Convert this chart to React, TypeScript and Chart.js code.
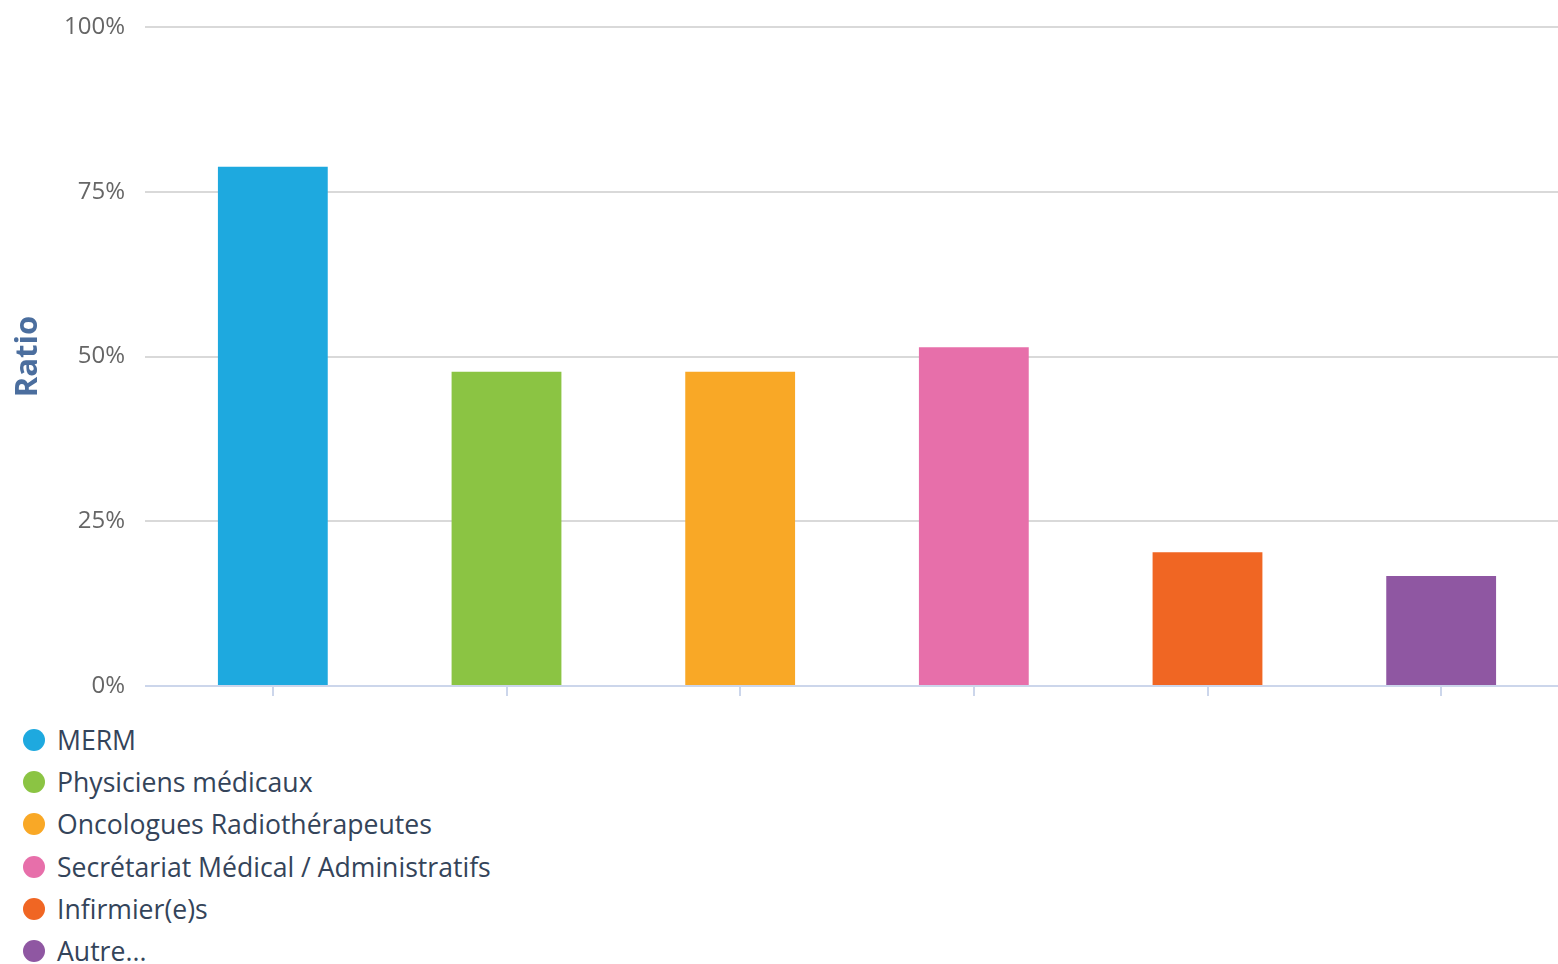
import React, { useEffect, useRef } from 'react';
import { Chart, registerables } from 'chart.js';

Chart.register(...registerables);

const categories = [
  'MERM',
  'Physiciens médicaux',
  'Oncologues Radiothérapeutes',
  'Secrétariat Médical / Administratifs',
  'Infirmier(e)s',
  'Autre...',
];
const ratios = [78.8, 47.7, 47.7, 51.4, 20.3, 16.7];
const barColors = ['#1EA9DF', '#8BC443', '#F9A826', '#E76FAA', '#F06623', '#8F57A2'];
const yTicks = [0, 25, 50, 75, 100];
const yTitle = 'Ratio';

const FONT = "'Open Sans', 'Noto Sans', sans-serif";

export default function App() {
  const canvasRef = useRef<HTMLCanvasElement | null>(null);

  useEffect(() => {
    if (!canvasRef.current) return;
    const chart = new Chart(canvasRef.current, {
      type: 'bar',
      data: {
        labels: categories,
        datasets: [
          {
            label: yTitle,
            data: ratios,
            backgroundColor: barColors,
            borderWidth: 0,
            categoryPercentage: 1,
            barPercentage: 0.47,
          },
        ],
      },
      options: {
        responsive: false,
        animation: false,
        layout: { padding: { top: 27, right: 0, bottom: 5, left: 0 } },
        plugins: {
          legend: { display: false },
          tooltip: { enabled: false },
        },
        scales: {
          x: {
            border: { display: true, color: '#ccd6eb', width: 2 },
            grid: {
              drawOnChartArea: false,
              offset: false,
              drawTicks: true,
              tickLength: 10,
              color: '#ccd6eb',
              lineWidth: 2,
            },
            ticks: { display: false },
          },
          y: {
            min: 0,
            max: 100,
            afterBuildTicks: (scale: any) => {
              scale.ticks = yTicks.map((v) => ({ value: v }));
            },
            afterFit: (scale: any) => {
              scale.width = 156;
            },
            border: { display: false },
            grid: {
              drawTicks: true,
              tickLength: 11,
              lineWidth: 2,
              color: (ctx: any) => (ctx.tick && ctx.tick.value === 0 ? '#ccd6eb' : '#d9d9d9'),
            },
            ticks: {
              padding: 20,
              color: '#666666',
              font: { family: FONT, size: 24, lineHeight: 0.5 },
              callback: (v: any) => v + '%',
            },
            title: {
              display: true,
              text: yTitle,
              color: '#4b6e9e',
              font: { family: FONT, size: 31, weight: 'bold' },
              padding: { top: 10, bottom: 0 },
            },
          },
        },
      },
    });
    return () => chart.destroy();
  }, []);

  return (
    <div style={{ position: 'absolute', left: 0, top: 0, width: 1558, background: '#fff' }}>
      <canvas ref={canvasRef} width={1558} height={712} style={{ display: 'block' }} />
      <div style={{ marginTop: 7, paddingLeft: 23, fontFamily: FONT, fontSize: 26.6, color: '#34445a' }}>
        {categories.map((c, i) => (
          <div key={c} style={{ display: 'flex', alignItems: 'center', height: 42.2, whiteSpace: 'nowrap' }}>
            <span
              style={{
                display: 'inline-block',
                width: 22,
                height: 22,
                borderRadius: '50%',
                background: barColors[i],
                marginRight: 12,
                flexShrink: 0,
              }}
            />
            <span style={{ lineHeight: '42.2px' }}>{c}</span>
          </div>
        ))}
      </div>
    </div>
  );
}
